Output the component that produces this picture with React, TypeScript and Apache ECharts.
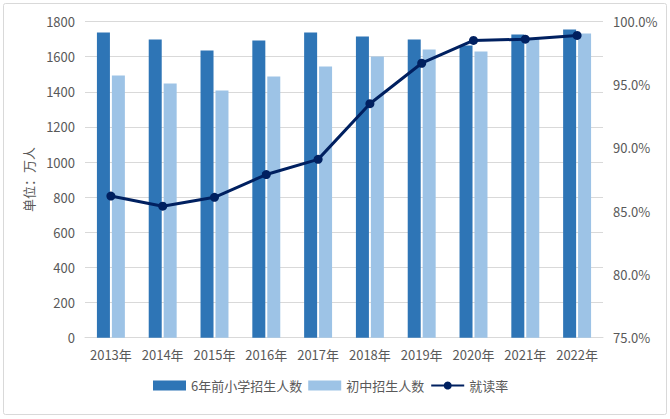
import React, { useEffect, useRef } from "react";
import * as echarts from "echarts";

const years = ["2013年", "2014年", "2015年", "2016年", "2017年", "2018年", "2019年", "2020年", "2021年", "2022年"];
const primaryEnroll = [1737, 1697, 1635, 1692, 1737, 1715, 1697, 1663, 1726, 1754];
const juniorEnroll = [1493, 1447, 1407, 1487, 1544, 1601, 1641, 1629, 1705, 1731];
const attendRate = [86.2, 85.4, 86.1, 87.9, 89.1, 93.5, 96.7, 98.5, 98.6, 98.9];

const FONT = "'Noto Sans CJK SC', 'Noto Sans', sans-serif";

export default function App() {
  const ref = useRef<HTMLDivElement>(null);
  useEffect(() => {
    document.body.style.margin = "0";
    const chart = echarts.init(ref.current!, undefined, { renderer: "svg" });
    chart.setOption({
      animation: false,
      backgroundColor: "#fff",
      textStyle: { fontFamily: FONT },
      graphic: [
        {
          type: "rect",
          shape: { x: 3.5, y: 3.5, width: 663, height: 411, r: 2 },
          style: { fill: "none", stroke: "#d9d9d9", lineWidth: 1 },
          silent: true,
        },
      ],
      grid: { left: 85, right: 67, top: 21.5, bottom: 81.3 },
      legend: {
        bottom: 22,
        left: 148,
        itemWidth: 33,
        itemHeight: 10,
        itemGap: 6,
        textStyle: { fontSize: 13, color: "#595959", fontFamily: FONT },
        data: [
          { name: "6年前小学招生人数", icon: "rect" },
          { name: "初中招生人数", icon: "rect" },
          { name: "就读率" },
        ],
      },
      xAxis: {
        type: "category",
        data: years,
        axisLine: { lineStyle: { color: "#d9d9d9" } },
        axisTick: { show: false },
        axisLabel: { color: "#595959", fontSize: 13, margin: 10, interval: 0, fontFamily: FONT },
      },
      yAxis: [
        {
          type: "value",
          min: 0,
          max: 1800,
          interval: 200,
          name: "单位：万人",
          nameLocation: "middle",
          nameRotate: 90,
          nameGap: 47,
          nameTextStyle: { color: "#595959", fontSize: 13, fontFamily: FONT },
          axisLine: { show: false },
          axisTick: { show: false },
          axisLabel: { color: "#595959", fontSize: 13, margin: 10, formatter: (v: number) => String(v) },
          splitLine: { lineStyle: { color: "#d9d9d9" } },
        },
        {
          type: "value",
          min: 75,
          max: 100,
          interval: 5,
          position: "right",
          axisLine: { show: false },
          axisTick: { show: false },
          axisLabel: {
            color: "#595959",
            fontSize: 13,
            margin: 10,
            formatter: (v: number) => v.toFixed(1) + "%",
          },
          splitLine: { show: false },
        },
      ],
      series: [
        {
          name: "6年前小学招生人数",
          type: "bar",
          data: primaryEnroll,
          barWidth: 13,
          barGap: "15%",
          itemStyle: { color: "#2E75B6" },
        },
        {
          name: "初中招生人数",
          type: "bar",
          data: juniorEnroll,
          barWidth: 13,
          barGap: "15%",
          itemStyle: { color: "#9DC3E6" },
        },
        {
          name: "就读率",
          type: "line",
          yAxisIndex: 1,
          data: attendRate,
          symbol: "circle",
          symbolSize: 9,
          lineStyle: { color: "#002060", width: 3 },
          itemStyle: { color: "#002060" },
          z: 5,
        },
      ],
    });
    return () => chart.dispose();
  }, []);
  return <div ref={ref} style={{ width: 670, height: 419 }} />;
}
